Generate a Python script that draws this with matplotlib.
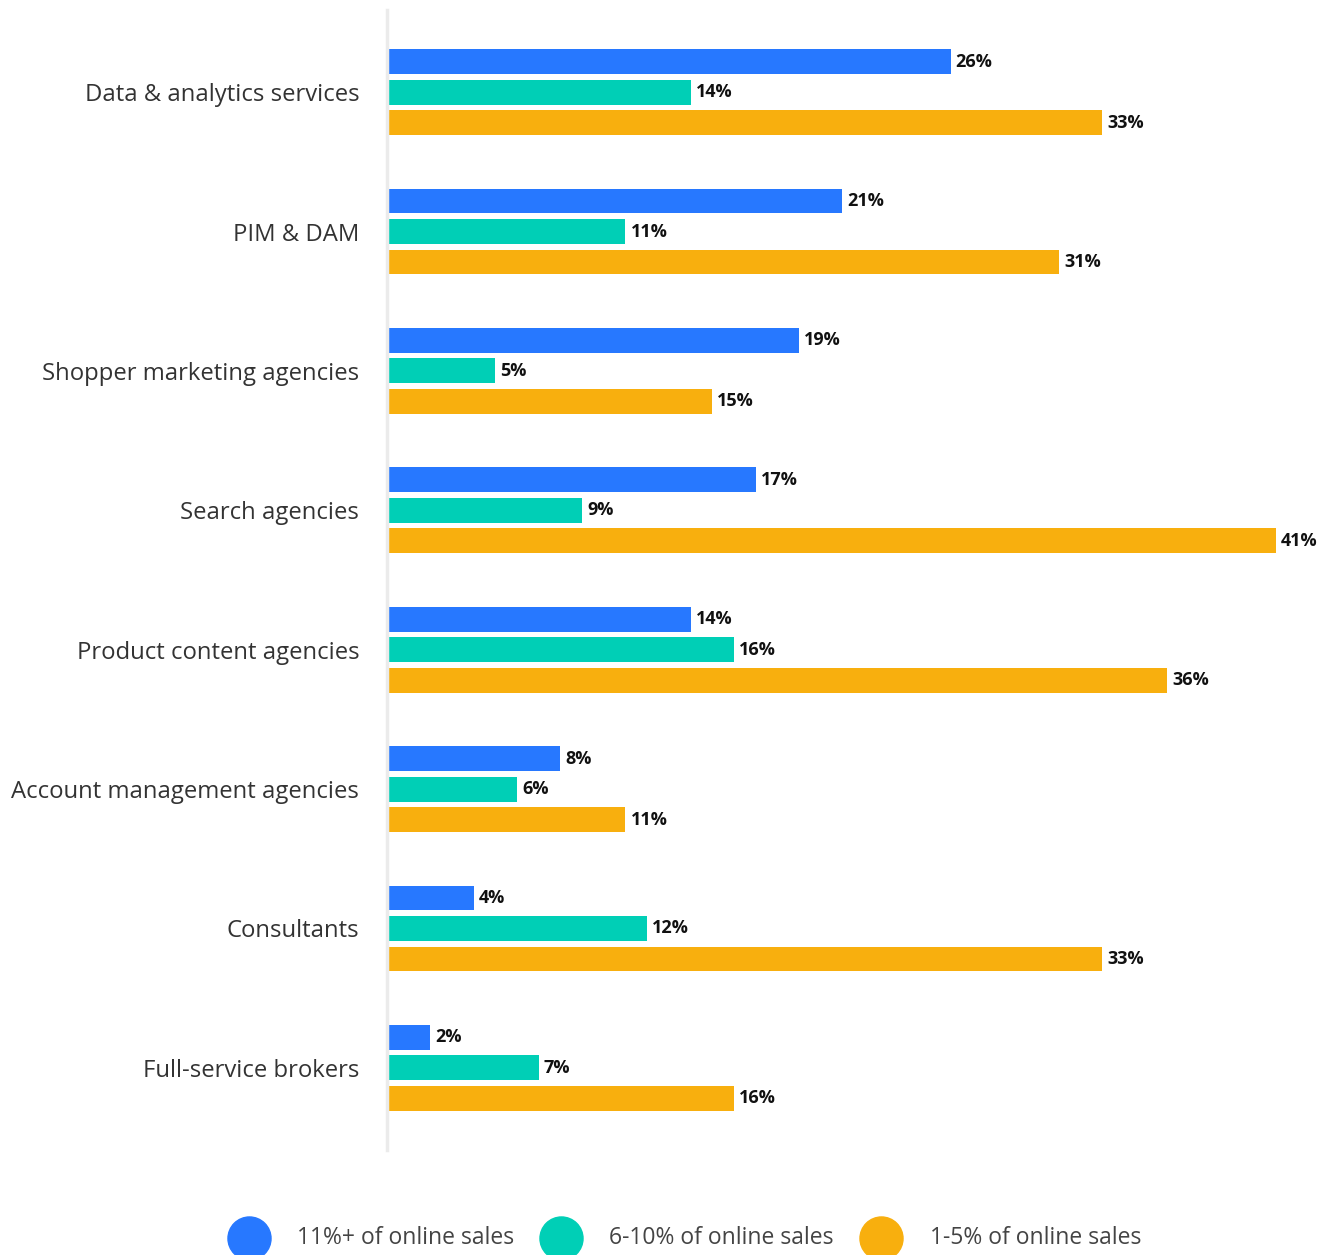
import matplotlib
matplotlib.use('Agg')
import matplotlib.pyplot as plt
from matplotlib.lines import Line2D
import numpy as np

# Share of respondents by partner type and online sales bracket
categories = ["Data & analytics services", "PIM & DAM", "Shopper marketing agencies",
              "Search agencies", "Product content agencies", "Account management agencies",
              "Consultants", "Full-service brokers"]
high_share = [26, 21, 19, 17, 14, 8, 4, 2]      # 11%+ of online sales
mid_share = [14, 11, 5, 9, 16, 6, 12, 7]        # 6-10% of online sales
low_share = [33, 31, 15, 41, 36, 11, 33, 16]    # 1-5% of online sales
series_names = ["11%+ of online sales", "6-10% of online sales", "1-5% of online sales"]
colors = ["#2778FF", "#00CFB6", "#F8AF0E"]

W, H = 1329, 1255
fig = plt.figure(figsize=(W / 100, H / 100), dpi=100)
ax = fig.add_axes([387 / W, 1 - 1150 / H, 1 - 387 / W, (1150 - 10) / H])

y = np.arange(len(categories))
offset = 0.219
bar_h = 0.178
for vals, dy, c in zip([high_share, mid_share, low_share], [-offset, 0, offset], colors):
    ax.barh(y + dy, vals, height=bar_h, color=c, zorder=2)
    for yi, v in zip(y + dy, vals):
        ax.annotate(f"{v}%", (v, yi), xytext=(3.6, 0), textcoords="offset points",
                    va="center", ha="left", fontsize=13, fontweight="bold",
                    color="#111111", family="Open Sans")

ax.set_xlim(0, 942 / 21.68)
ax.set_ylim(7.589, -0.589)
ax.set_yticks(y)
ax.set_yticklabels(categories, fontsize=17.2, color="#333333", family="Open Sans")
ax.tick_params(axis="y", length=0, pad=20)
ax.set_xticks([])
for s in ["top", "right", "bottom"]:
    ax.spines[s].set_visible(False)
ax.spines["left"].set_color("#EBEBEB")
ax.spines["left"].set_linewidth(2.5)

# Legend row along the bottom edge
leg_y = 1 - 1238 / H
for cx, tx, c, name in zip([249, 561, 881], [297, 609, 930], colors, series_names):
    fig.add_artist(Line2D([cx / W], [leg_y], marker="o", markersize=31, color=c,
                          linestyle="none", transform=fig.transFigure))
    fig.text(tx / W, leg_y, name, fontsize=16.5, color="#444444", va="center",
             ha="left", family="Open Sans")

plt.savefig("out.png", dpi=100)
